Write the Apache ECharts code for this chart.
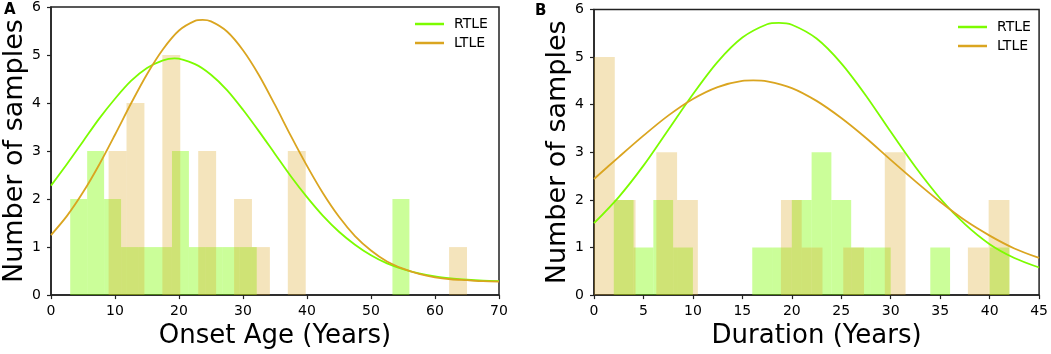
<!DOCTYPE html>
<html>
<head>
<meta charset="utf-8">
<script src="https://cdn.jsdelivr.net/npm/echarts@6/dist/echarts.min.js"></script>
<style>
  html, body { margin: 0; padding: 0; background: #fff; }
  #chart { width: 1051px; height: 354px; }
</style>
</head>
<body>
<div id="chart"></div>
<script>
// histogram counts, 20 bins each, spread evenly over [min, max]
const rtleAgeRange = [3, 56]
const rtleAgeCounts = [2, 3, 2, 1, 1, 1, 3, 1, 1, 1, 1, 0, 0, 0, 0, 0, 0, 0, 0, 2]
const ltleAgeRange = [9, 65]
const ltleAgeCounts = [3, 4, 0, 5, 0, 3, 0, 2, 1, 0, 3, 0, 0, 0, 0, 0, 0, 0, 0, 1]

const rtleDurRange = [2, 42]
const rtleDurCounts = [2, 1, 2, 1, 0, 0, 0, 1, 1, 2, 3, 2, 1, 1, 0, 0, 1, 0, 0, 1]
const ltleDurRange = [0, 42]
const ltleDurCounts = [5, 2, 0, 3, 2, 0, 0, 0, 0, 2, 1, 0, 1, 0, 3, 0, 0, 0, 1, 2]

// fitted curves (x, y pairs)
const rtleAgeX = [0, 2.5, 5, 7.5, 10, 12.5, 15, 17.5, 19.3, 22.5, 25, 27.5, 30, 32.5, 35,
  37.5, 40, 42.5, 45, 47.5, 50, 52.5, 55, 57.5, 60, 62.5, 65, 67.5, 70]
const rtleAgeCurve = [2.28, 2.73, 3.20, 3.67, 4.09, 4.46, 4.73, 4.89, 4.93, 4.81, 4.59,
  4.27, 3.86, 3.41, 2.94, 2.47, 2.04, 1.65, 1.32, 1.05, 0.83, 0.66, 0.54, 0.45, 0.39,
  0.35, 0.32, 0.30, 0.29]
const ltleAgeX = [0, 2.5, 5, 7.5, 10, 12.5, 15, 17.5, 20, 22.5, 23.7, 25, 27.5, 30, 32.5, 35,
  37.5, 40, 42.5, 45, 47.5, 50, 52.5, 55, 57.5, 60, 62.5, 65, 67.5, 70]
const ltleAgeCurve = [1.25, 1.65, 2.14, 2.71, 3.34, 3.99, 4.60, 5.12, 5.51, 5.71, 5.73, 5.70,
  5.49, 5.10, 4.58, 3.96, 3.31, 2.69, 2.12, 1.63, 1.23, 0.93, 0.70, 0.55, 0.44, 0.37,
  0.33, 0.31, 0.29, 0.28]

const rtleDurX = [0, 2.5, 5, 7.5, 10, 12.5, 15, 17.5, 18.7, 20, 22.5, 25, 27.5, 30, 32.5, 35,
  37.5, 40, 42.5, 45]
const rtleDurCurve = [1.51, 2.06, 2.72, 3.47, 4.22, 4.90, 5.41, 5.69, 5.72, 5.68, 5.39, 4.87,
  4.19, 3.43, 2.69, 2.03, 1.49, 1.07, 0.78, 0.58]
const ltleDurX = [0, 2.5, 5, 7.5, 10, 12.5, 15, 16.1, 17.5, 20, 22.5, 25, 27.5, 30, 32.5, 35,
  37.5, 40, 42.5, 45]
const ltleDurCurve = [2.44, 2.90, 3.35, 3.77, 4.12, 4.37, 4.50, 4.51, 4.49, 4.35, 4.08, 3.72,
  3.30, 2.84, 2.39, 1.96, 1.57, 1.25, 0.98, 0.78]

const GREEN = '#7cfc00'
const GOLD = '#daa520'
const FONT = 'DejaVu Sans'

const binsOf = (range, counts) => {
  const w = (range[1] - range[0]) / counts.length
  return counts.map((c, i) => [range[0] + i * w, range[0] + (i + 1) * w, c])
}

const histSeries = (name, idx, range, counts, fill) => ({
  name,
  type: 'custom',
  xAxisIndex: idx,
  yAxisIndex: idx,
  data: binsOf(range, counts),
  encode: { x: [0, 1], y: 2 },
  clip: true,
  renderItem: (params, api) => {
    if (!api.value(2)) return null
    const p0 = api.coord([api.value(0), api.value(2)])
    const p1 = api.coord([api.value(1), 0])
    return {
      type: 'rect',
      shape: { x: p0[0], y: p0[1], width: p1[0] - p0[0], height: p1[1] - p0[1] },
      style: { fill },
    }
  },
})

const lineSeries = (name, idx, xs, ys, color) => ({
  name,
  type: 'line',
  xAxisIndex: idx,
  yAxisIndex: idx,
  data: xs.map((x, i) => [x, ys[i]]),
  showSymbol: false,
  smooth: 0.3,
  lineStyle: { color, width: 1.8 },
  itemStyle: { color },
  z: 5,
})

const axisCommon = {
  axisLine: { show: true, lineStyle: { color: '#222', width: 1.5 } },
  axisTick: { show: true, length: 4, lineStyle: { color: '#222', width: 1.2 } },
  splitLine: { show: false },
}

const xAxis = (idx, max, interval, name) => ({
  ...axisCommon,
  gridIndex: idx,
  type: 'value',
  min: 0,
  max,
  interval,
  name,
  nameLocation: 'middle',
  nameGap: 22,
  nameTextStyle: { fontFamily: FONT, fontSize: 26, color: '#000' },
  axisLabel: { fontFamily: FONT, fontSize: 14, color: '#000', margin: 9 },
})

const yAxis = (idx) => ({
  ...axisCommon,
  gridIndex: idx,
  type: 'value',
  min: 0,
  max: 6,
  interval: 1,
  name: 'Number of samples',
  nameLocation: 'middle',
  nameGap: 22,
  nameTextStyle: { fontFamily: FONT, fontSize: 27, color: '#000' },
  axisLabel: { fontFamily: FONT, fontSize: 14, color: '#000', margin: 10 },
})

const legend = (left, top) => ({
  left,
  top,
  orient: 'vertical',
  data: ['RTLE', 'LTLE'],
  icon: 'rect',
  itemWidth: 29,
  itemHeight: 2.5,
  itemGap: 5,
  textStyle: { fontFamily: FONT, fontSize: 14, color: '#000', padding: [0, 0, 0, 5] },
})

const chart = echarts.init(document.getElementById('chart'))
chart.setOption({
  animation: false,
  grid: [
    { left: 51, top: 6, right: 552, bottom: 56.7, show: true, borderColor: '#222', borderWidth: 1.5 },
    { left: 594, top: 9.5, right: 9.3, bottom: 53.3, show: true, borderColor: '#222', borderWidth: 1.5 },
  ],
  xAxis: [
    xAxis(0, 70, 10, 'Onset Age (Years)'),
    xAxis(1, 45, 5, 'Duration (Years)'),
  ],
  yAxis: [yAxis(0), yAxis(1)],
  legend: [legend(410, 12), legend(953, 15)],
  graphic: [
    { type: 'text', left: 4, top: 3, style: { text: 'A', font: 'bold 15px DejaVu Sans', fill: '#000' } },
    { type: 'text', left: 535, top: 4, style: { text: 'B', font: 'bold 15px DejaVu Sans', fill: '#000' } },
  ],
  series: [
    histSeries('RTLE age', 0, rtleAgeRange, rtleAgeCounts, 'rgba(124,252,0,0.4)'),
    histSeries('LTLE age', 0, ltleAgeRange, ltleAgeCounts, 'rgba(218,165,32,0.3)'),
    lineSeries('RTLE', 0, rtleAgeX, rtleAgeCurve, GREEN),
    lineSeries('LTLE', 0, ltleAgeX, ltleAgeCurve, GOLD),
    histSeries('RTLE duration', 1, rtleDurRange, rtleDurCounts, 'rgba(124,252,0,0.4)'),
    histSeries('LTLE duration', 1, ltleDurRange, ltleDurCounts, 'rgba(218,165,32,0.3)'),
    lineSeries('RTLE', 1, rtleDurX, rtleDurCurve, GREEN),
    lineSeries('LTLE', 1, ltleDurX, ltleDurCurve, GOLD),
  ],
})

window.addEventListener('resize', () => chart.resize())
</script>
</body>
</html>
